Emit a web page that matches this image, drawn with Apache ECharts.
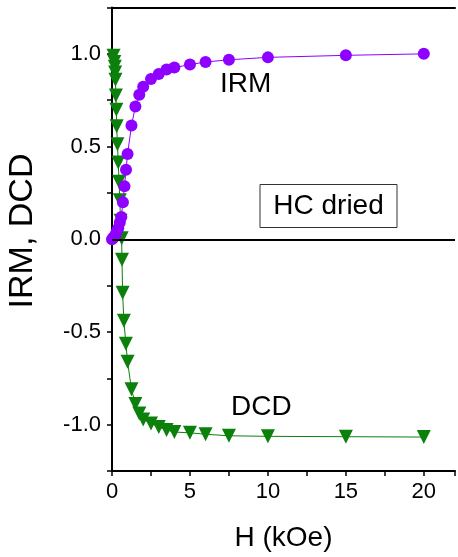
<!DOCTYPE html>
<html>
<head>
<meta charset="utf-8">
<script src="https://cdn.jsdelivr.net/npm/echarts@6/dist/echarts.min.js"></script>
<style>
html,body{margin:0;padding:0;background:#fff;}
#chart{width:458px;height:557px;}
</style>
</head>
<body>
<div id="chart"></div>
<script>
// IRM (purple circles)
const irmH = [0, 0.1, 0.2, 0.3, 0.4, 0.5, 0.6, 0.7, 0.8, 0.9, 1.0, 1.25, 1.5, 1.75, 2.0, 2.5, 3.0, 3.5, 4.0, 5.0, 6.0, 7.5, 10, 15, 20];
const irmV = [0.0, 0.01, 0.02, 0.04, 0.06, 0.09, 0.12, 0.2, 0.286, 0.375, 0.46, 0.613, 0.716, 0.779, 0.823, 0.864, 0.891, 0.916, 0.926, 0.942, 0.956, 0.968, 0.981, 0.992, 1.0];
// DCD (green down triangles)
const dcdH = [0.1, 0.15, 0.18, 0.2, 0.22, 0.25, 0.28, 0.3, 0.35, 0.4, 0.45, 0.5, 0.55, 0.62, 0.64, 0.68, 0.76, 0.89, 1.0, 1.25, 1.5, 1.75, 2.0, 2.5, 3.0, 3.5, 4.0, 5.0, 6.0, 7.5, 10, 15, 20];
const dcdV = [0.99, 0.956, 0.93, 0.9, 0.86, 0.776, 0.699, 0.61, 0.512, 0.414, 0.31, 0.21, 0.10, 0.005, -0.11, -0.288, -0.439, -0.564, -0.661, -0.809, -0.889, -0.94, -0.972, -0.994, -1.013, -1.029, -1.04, -1.044, -1.052, -1.06, -1.063, -1.065, -1.067];
const xTickLabels = [0, 5, 10, 15, 20];
const yTickLabels = [-1.0, -0.5, 0.0, 0.5, 1.0];

const FONT = 'Liberation Sans, Arial, sans-serif';
const chart = echarts.init(document.getElementById('chart'));
const zip = (a, b) => a.map((v, i) => [v, b[i]]);

chart.setOption({
  animation: false,
  backgroundColor: '#fff',
  grid: { left: 112, right: 0, top: 7.5, bottom: 81, containLabel: false },
  xAxis: [{
    type: 'value', min: 0, max: 22, interval: 2.5,
    axisLine: { show: true, onZero: false, lineStyle: { color: '#000', width: 2 } },
    axisTick: { show: true, inside: false, length: 5, lineStyle: { color: '#000', width: 1.5 } },
    splitLine: { show: false },
    axisLabel: {
      color: '#000', fontSize: 22, fontFamily: FONT, margin: 10,
      formatter: v => xTickLabels.some(t => Math.abs(t - v) < 1e-6) ? String(v) : ''
    },
    name: 'H (kOe)', nameLocation: 'middle', nameGap: 53,
    nameTextStyle: { color: '#000', fontSize: 28, fontFamily: FONT }
  }, {
    type: 'value', position: 'top', min: 0, max: 22,
    axisLine: { show: true, onZero: false, lineStyle: { color: '#000', width: 2 } },
    axisTick: { show: false }, axisLabel: { show: false }, splitLine: { show: false }
  }],
  yAxis: {
    type: 'value', min: -1.25, max: 1.25, interval: 0.25,
    axisLine: { show: true, onZero: false, lineStyle: { color: '#000', width: 2 } },
    axisTick: { show: true, inside: false, length: 5, lineStyle: { color: '#000', width: 1.5 } },
    splitLine: { show: false },
    axisLabel: {
      color: '#000', fontSize: 22, fontFamily: FONT, margin: 11,
      formatter: v => yTickLabels.some(t => Math.abs(t - v) < 1e-6) ? v.toFixed(1) : ''
    }
  },
  series: [{
    name: 'DCD', type: 'line', data: zip(dcdH, dcdV),
    symbol: 'triangle', symbolRotate: 180, symbolSize: 14,
    itemStyle: { color: '#0B800B' },
    lineStyle: { color: '#0B800B', width: 1 },
    markLine: {
      silent: true, symbol: 'none', label: { show: false },
      lineStyle: { color: '#000', width: 2, type: 'solid' },
      data: [{ yAxis: 0 }]
    },
    z: 2
  }, {
    name: 'IRM', type: 'line', data: zip(irmH, irmV),
    symbol: 'circle', symbolSize: 12,
    itemStyle: { color: '#8E00FF' },
    lineStyle: { color: '#8E00FF', width: 1 },
    z: 3
  }],
  graphic: [
    { type: 'text', x: 23, y: 231, rotation: Math.PI / 2,
      style: { text: 'IRM, DCD', fontSize: 34, fontFamily: FONT, fill: '#000', align: 'center', verticalAlign: 'middle' } },
    { type: 'text', left: 220, top: 70, style: { text: 'IRM', fontSize: 28, fontFamily: FONT, fill: '#000' } },
    { type: 'text', left: 231, top: 393, style: { text: 'DCD', fontSize: 28, fontFamily: FONT, fill: '#000' } },
    { type: 'rect', shape: { x: 260, y: 184.5, width: 137, height: 43 }, style: { fill: '#fff', stroke: '#333', lineWidth: 1 } },
    { type: 'text', x: 328.5, y: 206, style: { text: 'HC dried', fontSize: 28, fontFamily: FONT, fill: '#000', align: 'center', verticalAlign: 'middle' } }
  ]
});
</script>
</body>
</html>
